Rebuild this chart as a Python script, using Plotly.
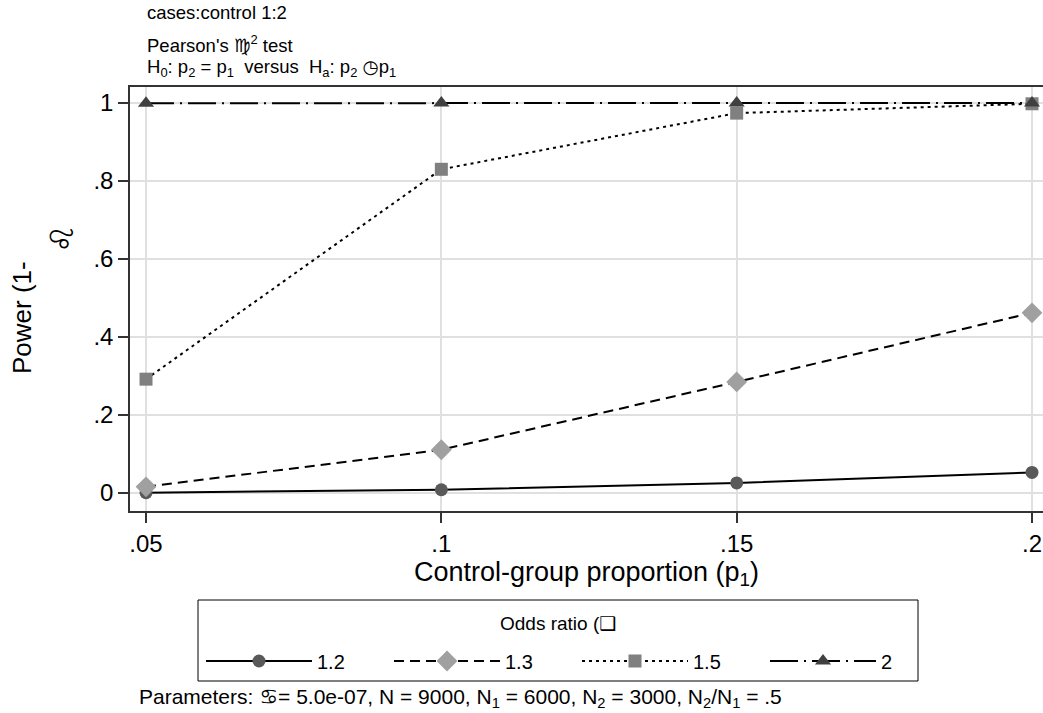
import plotly.graph_objects as go

# ---- data ----
p1 = [0.05, 0.10, 0.15, 0.20]
odds_ratios = ["1.2", "1.3", "1.5", "2"]
power_or12 = [0.001, 0.0085, 0.026, 0.053]
power_or13 = [0.016, 0.111, 0.285, 0.462]
power_or15 = [0.292, 0.830, 0.974, 0.998]
power_or2 = [0.9995, 1.0, 1.0, 1.0]
x_ticks = [0.05, 0.10, 0.15, 0.20]
x_ticklabels = [".05", ".1", ".15", ".2"]
y_ticks = [0, 0.2, 0.4, 0.6, 0.8, 1.0]
y_ticklabels = ["0", ".2", ".4", ".6", ".8", "1"]

FONT = "Liberation Sans, Arial, DejaVu Sans, sans-serif"
W, H = 1043, 713
ML, MR, MT, MB = 130, 0, 87, 202
PW, PH = W - ML - MR, H - MT - MB

series = [
    (power_or12, "solid", "circle", "#595959", 13),
    (power_or13, "10px,6px", "diamond", "#a0a0a0", 16),
    (power_or15, "3px,4px", "square", "#808080", 13),
    (power_or2, "28px,6px,2px,6px", "triangle-up", "#404040", 14),
]
legend_widths = [67, 67, 67, 30]

fig = go.Figure()
for name, (vals, dash, sym, mcol, msize), lw in zip(odds_ratios, series, legend_widths):
    fig.add_trace(go.Scatter(
        x=p1, y=vals, name=name, mode="lines+markers",
        line=dict(color="black", width=2, dash=dash),
        marker=dict(symbol=sym, color=mcol, size=msize, line=dict(width=0)),
        cliponaxis=False, legendwidth=lw,
    ))

axis_common = dict(
    showline=True, linecolor="#333333", linewidth=1.5,
    ticks="outside", ticklen=10, tickcolor="#333333", tickwidth=1.5,
    showgrid=True, gridcolor="#e0e0e0", gridwidth=2, zeroline=False,
    tickfont=dict(family=FONT, size=24, color="black"),
    ticklabeloverflow="allow",
)

fig.update_xaxes(
    range=[0.04729, 0.20186], tickvals=x_ticks, ticktext=x_ticklabels,
    mirror=True,
    title=dict(text="Control-group proportion (p<sub>1</sub>)",
               font=dict(family=FONT, size=27, color="black"), standoff=4),
    **axis_common,
)
fig.update_yaxes(
    range=[-0.046, 1.041], tickvals=y_ticks, ticktext=y_ticklabels,
    mirror=False, title=None,
    **axis_common,
)


def px_to_paper(px, py):
    return (px - ML) / PW, (H - py - MB) / PH


annotations = [
    ("cases:control 1:2", 145, 12, 18.5),
    ("Pearson's \u264d<sup>2</sup> test", 145, 44, 18.5),
    ("H<sub>0</sub>: p<sub>2</sub> = p<sub>1</sub>&nbsp;&nbsp;versus&nbsp;&nbsp;H<sub>a</sub>: p<sub>2</sub> \u25f7p<sub>1</sub>",
     145, 68, 18.5),
    ("Parameters: \u264b= 5.0e-07, N = 9000, N<sub>1</sub> = 6000, N<sub>2</sub> = 3000, N<sub>2</sub>/N<sub>1</sub> = .5",
     137, 698, 21),
]
ann_list = []
for text, ax_, ay_, size in annotations:
    x, y = px_to_paper(ax_, ay_)
    ann_list.append(dict(
        text=text, xref="paper", yref="paper", showarrow=False,
        x=x, y=y, xanchor="left", yanchor="middle",
        font=dict(family=FONT, size=size, color="black"),
    ))
# legend title
x, y = px_to_paper(558, 623)
ann_list.append(dict(
    text="Odds ratio (\u2751", xref="paper", yref="paper", showarrow=False,
    x=x, y=y, xanchor="center", yanchor="middle",
    font=dict(family=FONT, size=19, color="black"),
))
# y-axis title pieces
x, y = px_to_paper(22, 318)
ann_list.append(dict(
    text="Power (1-", xref="paper", yref="paper", showarrow=False,
    x=x, y=y, xanchor="center", yanchor="middle", textangle=-90,
    font=dict(family=FONT, size=26, color="black"),
))
x, y = px_to_paper(62, 239)
ann_list.append(dict(
    text="\u264c", xref="paper", yref="paper", showarrow=False,
    x=x, y=y, xanchor="center", yanchor="middle", textangle=-90,
    font=dict(family=FONT, size=32, color="black"),
))

# legend frame
bx0, by1 = px_to_paper(198, 600)
bx1, by0 = px_to_paper(918, 681)
shapes = [dict(type="rect", xref="paper", yref="paper",
               x0=bx0, x1=bx1, y0=by0, y1=by1,
               line=dict(color="black", width=1), fillcolor="rgba(0,0,0,0)")]

fig.update_layout(
    width=W, height=H,
    margin=dict(l=ML, r=MR, t=MT, b=MB),
    plot_bgcolor="white", paper_bgcolor="white",
    font=dict(family=FONT, color="black"),
    showlegend=True,
    legend=dict(
        orientation="h", xref="container", yref="container",
        x=201 / W, xanchor="left", y=1 - 661 / H, yanchor="middle",
        font=dict(family=FONT, size=20, color="black"),
        borderwidth=0, bgcolor="rgba(0,0,0,0)",
        itemwidth=106, entrywidth=67, tracegroupgap=0,
    ),
    annotations=ann_list,
    shapes=shapes,
)

fig.write_html("out.html", config={"displayModeBar": False},
               post_script="document.body.style.margin='0';")
